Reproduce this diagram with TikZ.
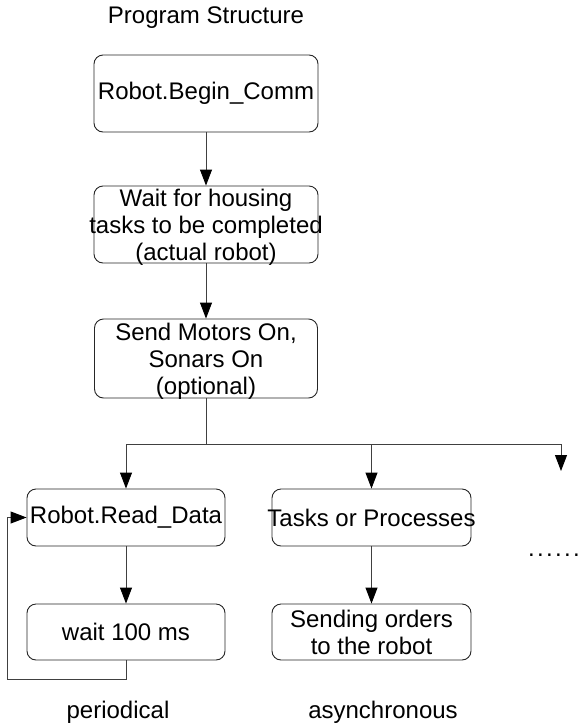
\documentclass[tikz,border=0pt]{standalone}
\usepackage{fontspec}
\setmainfont{Liberation Sans}
\usetikzlibrary{arrows.meta}
\begin{document}
\begin{tikzpicture}[x=1pt,y=-1pt,
  every node/.style={font=\fontsize{24}{27}\selectfont, text=black},
  boxshape/.style={draw=black!85, line width=0.9pt, rounded corners=9pt, inner sep=0pt},
  label/.style={align=center, inner sep=0pt},
  conn/.style={draw=black!75, line width=0.9pt},
  arr/.style={conn, -{Triangle[length=16pt,width=12pt,color=black,fill=black]}},
]
\useasboundingbox (0,0) rectangle (582,726);

% title
\node[label] (title) at (206,18) {Program Structure};

% main sequence
\node[boxshape, minimum width=224pt, minimum height=77pt] (b1) at (206,93.5) {};
\node[label] (t1) at (b1) {Robot.Begin\_Comm};

\node[boxshape, minimum width=224pt, minimum height=77pt] (b2) at (206,224.5) {};
\node[label] (t2) at (206,227) {Wait for housing\\tasks to be completed\\(actual robot)};

\node[boxshape, minimum width=223pt, minimum height=79pt] (b3) at (206,358.5) {};
\node[label] (t3) at (206,361) {Send Motors On,\\Sonars On\\(optional)};

% parallel branches
\node[boxshape, minimum width=198pt, minimum height=57pt] (rd) at (126,517.5) {};
\node[label] (trd) at (rd) {Robot.Read\_Data};

\node[boxshape, minimum width=198pt, minimum height=56pt] (wt) at (126,632) {};
\node[label] (twt) at (wt) {wait 100 ms};

\node[boxshape, minimum width=199pt, minimum height=57pt] (tp) at (371.5,517.5) {};
\node[label] (ttp) at (tp) {Tasks or Processes};

\node[boxshape, minimum width=199pt, minimum height=56pt] (so) at (371.5,632) {};
\node[label] (tso) at (so) {Sending orders\\to the robot};

\node[anchor=base west, inner sep=0pt] (dots) at (528,556) {.\kern2.3pt.\kern2.3pt.\kern2.3pt.\kern2.3pt.\kern2.3pt.};

\node[label] (per) at (118,712) {periodical};
\node[label] (asy) at (383,712) {asynchronous};

% connection points
\coordinate (split) at (206,444);
\coordinate (more) at (561,471);
\coordinate (loop) at (7,679);

% connectors
\draw[arr] (b1.south) -- (b2.north);
\draw[arr] (b2.south) -- (b3.north);
\draw[conn] (b3.south) -- (split);
\draw[arr] (split) -| (rd.north);
\draw[arr] (split) -| (tp.north);
\draw[arr] (split) -| (more);
\draw[arr] (rd.south) -- (wt.north);
\draw[arr] (tp.south) -- (so.north);
\draw[arr] (wt.south) |- (loop) |- (rd.west);
\end{tikzpicture}
\end{document}
